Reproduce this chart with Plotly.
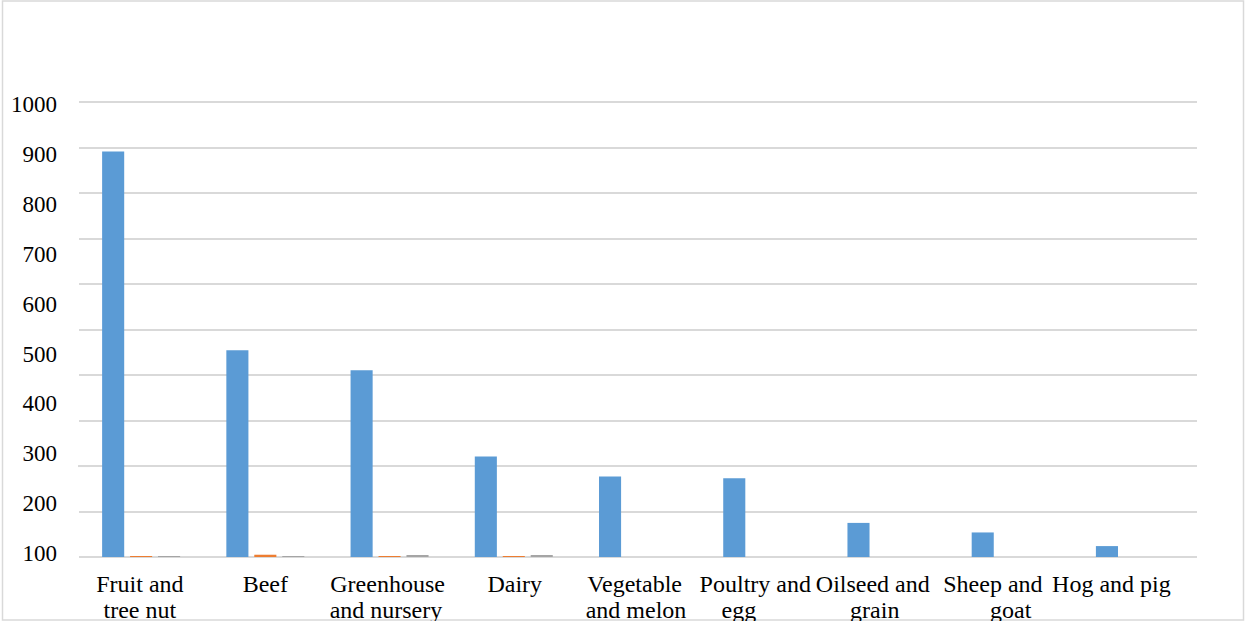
import plotly.graph_objects as go

# Agricultural sectors (two-line category labels)
categories = ["Fruit and tree nut", "Beef", "Greenhouse and nursery", "Dairy",
              "Vegetable and melon", "Poultry and egg", "Oilseed and grain",
              "Sheep and goat", "Hog and pig"]
label_line1 = ["Fruit and", "Beef", "Greenhouse", "Dairy", "Vegetable",
               "Poultry and", "Oilseed and", "Sheep and", "Hog and pig"]
label_line2 = ["tree nut", "", "and nursery", "", "and melon", "egg", "grain", "goat", ""]

series_a = [892, 455, 411, 221, 177, 173, 75, 54, 24]
series_b = [2, 5, 2, 2, 0, 0, 0, 0, 0]
series_c = [2, 2, 3, 4, 0, 0, 0, 0, 0]

value_ticks = [100, 200, 300, 400, 500, 600, 700, 800, 900, 1000]

W, H = 1245, 621
L, R, T, B = 79, 48, 101, 64
FONT = "Liberation Serif"
GRID = "#d9d9d9"

# horizontal nudges of each label line, in category widths
nudge1 = [-0.01, 0.0, -0.016, 0.008, -0.027, -0.056, -0.11, -0.143, -0.189]
nudge2 = [-0.01, 0.0, -0.029, 0.0, -0.016, -0.188, -0.094, 0.0, 0.0]

idx = list(range(len(categories)))

fig = go.Figure()
for vals, color in [(series_a, "#5B9BD5"), (series_b, "#ED7D31"), (series_c, "#A5A5A5")]:
    fig.add_trace(go.Bar(x=idx, y=vals, marker=dict(color=color, line=dict(width=0)),
                         showlegend=False, hovertext=categories))

# empty traces so the label-only overlay axes are rendered
fig.add_trace(go.Scatter(x=[None], y=[None], xaxis="x", yaxis="y2", mode="markers",
                         showlegend=False, hoverinfo="skip"))
fig.add_trace(go.Scatter(x=[None], y=[None], xaxis="x2", yaxis="y", mode="markers",
                         showlegend=False, hoverinfo="skip"))

xfont = dict(family=FONT, size=24, color="#000000")
yfont = dict(family=FONT, size=23, color="#000000")

fig.update_layout(
    width=W, height=H,
    margin=dict(l=L, r=R, t=T, b=B, pad=0, autoexpand=False),
    paper_bgcolor="white", plot_bgcolor="white",
    barmode="group", bargap=0.325, bargroupgap=0.21,
    font=dict(family=FONT, size=24, color="#000000"),
    xaxis=dict(range=[-0.5, len(categories) - 0.5], tickmode="array",
               tickvals=[i + n for i, n in zip(idx, nudge1)], ticktext=label_line1,
               showgrid=False, zeroline=False, showline=False, ticks="",
               ticklabelstandoff=10, tickfont=xfont, automargin=False),
    xaxis2=dict(range=[-0.5, len(categories) - 0.5], overlaying="x", anchor="y",
                side="bottom", tickmode="array",
                tickvals=[i + n for i, n in zip(idx, nudge2)], ticktext=label_line2,
                showgrid=False, zeroline=False, showline=False, ticks="",
                ticklabelstandoff=36, tickfont=xfont, automargin=False),
    yaxis=dict(range=[0, 1003], tickmode="array", tickvals=[100 * i for i in range(1, 11)],
               showgrid=True, gridcolor=GRID, gridwidth=2,
               zeroline=True, zerolinecolor=GRID, zerolinewidth=2,
               showticklabels=False, ticks="", showline=False, automargin=False),
    yaxis2=dict(range=[92, 1006], overlaying="y", anchor="x", side="left",
                tickmode="array", tickvals=value_ticks,
                ticktext=[str(v) for v in value_ticks],
                showgrid=False, zeroline=False, showline=False, ticks="",
                ticklabelstandoff=21, tickfont=yfont, automargin=False),
)

# short stray tick stub beside the axis
fig.add_shape(type="line", xref="paper", yref="y", x0=(78 - L) / (W - L - R),
              x1=(90 - L) / (W - L - R), y0=200, y1=200,
              line=dict(color=GRID, width=2))

# outer frame around the chart area
pw, ph = W - L - R, H - T - B
fig.add_shape(type="rect", xref="paper", yref="paper",
              x0=(2.5 - L) / pw, x1=(1243.5 - L) / pw,
              y0=(H - B - 620) / ph, y1=(H - B - 1) / ph,
              line=dict(color=GRID, width=1.5), fillcolor="rgba(0,0,0,0)", layer="below")

fig.write_html("out.html")
